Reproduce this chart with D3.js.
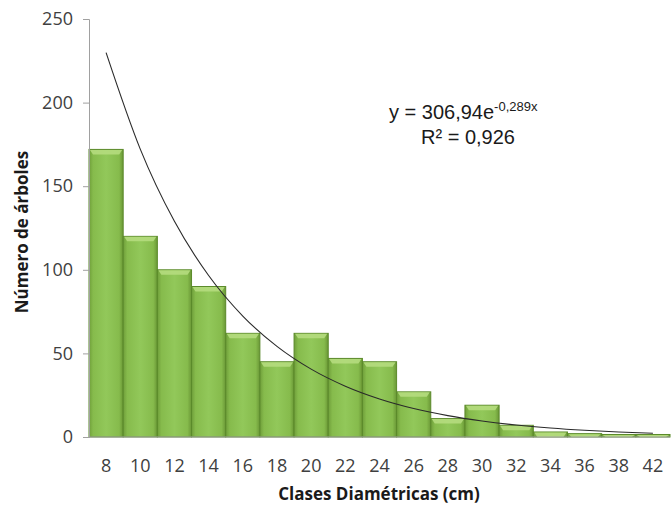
<!DOCTYPE html>
<html><head><meta charset="utf-8">
<script src="https://cdn.jsdelivr.net/npm/d3@7"></script>
<style>body{margin:0;background:#fff}</style>
</head><body>
<svg id="c" width="671" height="506"></svg>
<script>
const categories = ["8","10","12","14","16","18","20","22","24","26","28","30","32","34","36","38","42"];
const values = [172,120,100,90,62,45,62,47,45,27,11,19,7,3,2,1.5,1.5];
const yTicks = [0,50,100,150,200,250];
const trendA = 306.94, trendB = -0.289;

const svg = d3.select("#c");
const m = {l:89, r:670, t:19, b:437};
const x = d3.scaleBand().domain(categories).range([m.l, m.r]).padding(0);
const y = d3.scaleLinear().domain([0,250]).range([m.b, m.t]);

const defs = svg.append("defs");
const g = defs.append("linearGradient").attr("id","bar").attr("x1","0").attr("x2","1").attr("y1","0").attr("y2","0");
g.append("stop").attr("offset","0").attr("stop-color","#6f9e3a");
g.append("stop").attr("offset","0.12").attr("stop-color","#86bb4c");
g.append("stop").attr("offset","0.5").attr("stop-color","#92c85a");
g.append("stop").attr("offset","0.88").attr("stop-color","#86bb4c");
g.append("stop").attr("offset","1").attr("stop-color","#6a9736");

const font = "'Open Sans', Lato, sans-serif";

// bars
const bars = svg.append("g");
bars.selectAll("rect").data(values).join("rect")
  .attr("x",(d,i)=>x(categories[i]))
  .attr("y",d=>y(d))
  .attr("width",x.bandwidth())
  .attr("height",d=>y(0)-y(d))
  .attr("fill","url(#bar)")
  .attr("stroke","#5b8a2a").attr("stroke-width",1);
// top highlight
bars.selectAll("path.hl").data(values).join("path").attr("class","hl")
  .attr("d",(d,i)=>{const x0=x(categories[i]),w=x.bandwidth(),y0=y(d),h=Math.min(5,y(0)-y(d));
    return `M${x0+1},${y0+0.5}L${x0+w-1},${y0+0.5}L${x0+w-4},${y0+h}L${x0+4},${y0+h}Z`;})
  .attr("fill","#b5dc7e").attr("opacity",0.9);

// axes
svg.append("line").attr("x1",m.l).attr("x2",m.r).attr("y1",y(0)).attr("y2",y(0)).attr("stroke","#a0a0a0");
const ya = svg.append("g").attr("transform",`translate(${m.l},0)`)
  .call(d3.axisLeft(y).tickValues(yTicks).tickSize(6).tickPadding(10));
ya.select(".domain").attr("stroke","#a0a0a0");
ya.selectAll(".tick line").attr("stroke","#a0a0a0");
ya.selectAll("text").attr("font-family",font).attr("font-size",18).attr("fill","#404040");

const xa = svg.append("g").attr("transform",`translate(0,${y(0)})`)
  .call(d3.axisBottom(x).tickSize(0).tickPadding(22));
xa.select(".domain").remove();
xa.selectAll("text").attr("font-family",font).attr("font-size",18).attr("fill","#404040");

// trendline
const line = d3.line().x((d,i)=>x(categories[i])+x.bandwidth()/2).y(d=>y(d)).curve(d3.curveMonotoneX);
const trend = categories.map((c,i)=>trendA*Math.exp(trendB*(i+1)));
svg.append("path").attr("d",line(trend)).attr("fill","none").attr("stroke","#2a2a2a").attr("stroke-width",1.1);

// labels
svg.append("text").attr("x",379).attr("y",500).attr("text-anchor","middle")
  .attr("font-family",font).attr("font-weight","bold").attr("font-size",17).attr("fill","#1a1a1a")
  .text("Clases Diamétricas (cm)");
svg.append("text").attr("transform","translate(28,232) rotate(-90)").attr("text-anchor","middle")
  .attr("font-family",font).attr("font-weight","bold").attr("font-size",17).attr("fill","#1a1a1a")
  .text("Número de árboles");

// equation
const eq = svg.append("text").attr("x",389).attr("y",119)
  .attr("font-family","'Liberation Sans', Arial, sans-serif").attr("font-size",20).attr("fill","#1a1a1a");
eq.append("tspan").text("y = 306,94e");
eq.append("tspan").attr("dy",-8).attr("font-size",13).text("-0,289x");
svg.append("text").attr("x",468).attr("y",144).attr("text-anchor","middle")
  .attr("font-family","'Liberation Sans', Arial, sans-serif").attr("font-size",20).attr("fill","#1a1a1a")
  .text("R² = 0,926");
</script>
</body></html>
